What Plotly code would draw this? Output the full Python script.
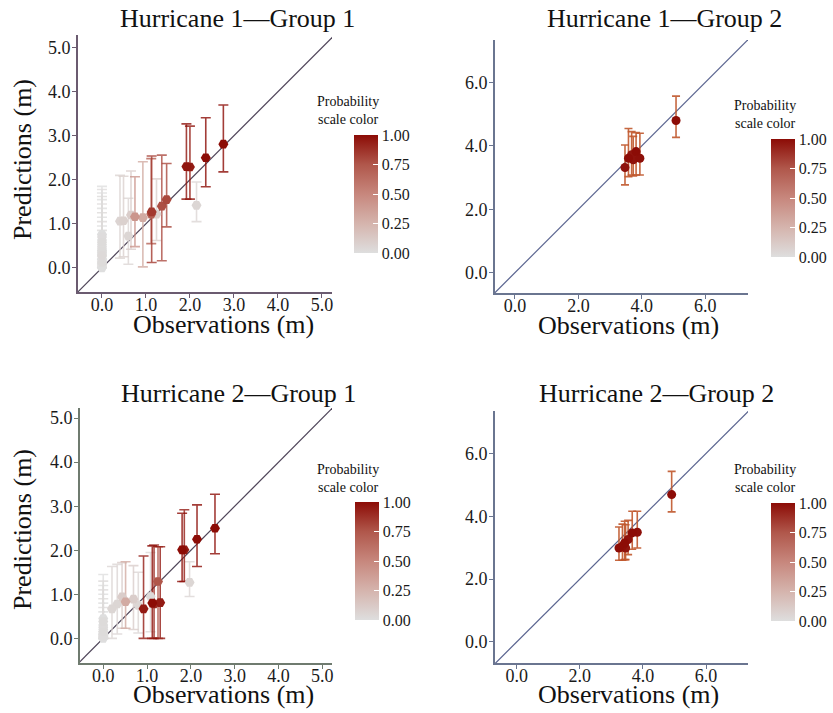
import plotly.graph_objects as go
from plotly.colors import sample_colorscale

W, H = 833, 713
FONT = "Liberation Serif"

# ---------------- data ----------------
# Hurricane 1 - Group 1
h1g1_obs = [2.76, 2.36, 1.92, 2.00, 1.47, 1.36, 1.13, 1.12, 1.24, 0.93, 0.75, 0.66, 0.60, 0.49, 0.41, 2.15,
            0.0, 0.0, 0.0, 0.0, 0.0, 0.0, 0.0, 0.0, 0.0, 0.0, 0.0, 0.0, 0.0]
h1g1_pred = [2.81, 2.50, 2.30, 2.29, 1.55, 1.40, 1.27, 1.22, 1.22, 1.14, 1.16, 1.20, 0.72, 1.07, 1.06, 1.42,
             0.00, 0.12, 0.20, 0.28, 0.33, 0.38, 0.43, 0.48, 0.53, 0.58, 0.63, 0.70, 0.76]
h1g1_lo = [2.18, 1.84, 1.56, 1.56, 0.93, 0.16, 0.12, 0.55, 0.62, 0.02, 0.48, 0.42, 0.08, 0.25, 0.22, 1.05,
           0.00, 0.00, 0.02, 0.05, 0.08, 0.10, 0.15, 0.18, 0.20, 0.25, 0.30, 0.35, 0.40]
h1g1_hi = [3.70, 3.41, 3.27, 3.22, 2.37, 2.56, 2.54, 2.48, 2.02, 2.41, 2.07, 2.20, 1.58, 2.08, 2.10, 1.95,
           0.75, 0.85, 0.95, 1.05, 1.15, 1.25, 1.35, 1.45, 1.55, 1.62, 1.70, 1.78, 1.85]
h1g1_prob = [1.00, 1.00, 0.97, 0.95, 0.80, 0.78, 0.85, 0.70, 0.08, 0.30, 0.42, 0.10, 0.05, 0.08, 0.06, 0.05,
             0.00, 0.02, 0.00, 0.03, 0.00, 0.02, 0.00, 0.01, 0.00, 0.02, 0.00, 0.01, 0.00]

# Hurricane 1 - Group 2
h1g2_obs = [5.08, 3.47, 3.58, 3.68, 3.82, 3.94, 3.73]
h1g2_pred = [4.80, 3.32, 3.61, 3.72, 3.82, 3.61, 3.56]
h1g2_lo = [4.27, 2.77, 3.03, 3.08, 3.08, 3.08, 3.05]
h1g2_hi = [5.57, 4.03, 4.55, 4.45, 4.42, 4.40, 4.30]
h1g2_prob = [1.00, 0.98, 1.00, 0.97, 1.00, 0.99, 0.98]

# Hurricane 2 - Group 1
h2g1_obs = [2.55, 2.14, 1.80, 1.85, 1.25, 1.30, 1.16, 1.12, 0.92, 1.97, 0.51, 0.43, 0.69, 0.80, 0.32, 0.20, 1.08,
            0.0, 0.0, 0.0, 0.0, 0.0, 0.0, 0.0, 0.0, 0.0]
h2g1_pred = [2.50, 2.25, 2.01, 2.01, 1.29, 0.81, 0.78, 0.80, 0.67, 1.27, 0.83, 0.94, 0.89, 0.75, 0.78, 0.67, 0.95,
             0.00, 0.05, 0.10, 0.15, 0.20, 0.25, 0.30, 0.38, 0.45]
h2g1_lo = [1.92, 1.63, 1.29, 1.29, 0.00, 0.00, 0.00, 0.00, 0.00, 0.95, 0.23, 0.23, 0.20, 0.12, 0.10, 0.00, 0.15,
           0.00, 0.00, 0.00, 0.00, 0.00, 0.05, 0.08, 0.10, 0.15]
h2g1_hi = [3.27, 3.03, 2.84, 2.92, 2.08, 2.08, 2.12, 2.10, 1.87, 1.74, 1.74, 1.72, 1.65, 1.50, 1.68, 1.63, 1.95,
           0.60, 0.70, 0.80, 0.90, 1.00, 1.10, 1.20, 1.30, 1.45]
h2g1_prob = [1.00, 1.00, 1.00, 0.95, 0.75, 0.95, 0.90, 1.00, 0.95, 0.05, 0.30, 0.10, 0.10, 0.05, 0.05, 0.05, 0.03,
             0.00, 0.01, 0.00, 0.02, 0.00, 0.01, 0.00, 0.02, 0.00]

# Hurricane 2 - Group 2
h2g2_obs = [4.91, 3.82, 3.66, 3.53, 3.42, 3.45, 3.24, 3.35]
h2g2_pred = [4.69, 3.49, 3.47, 3.26, 3.15, 2.99, 2.99, 3.05]
h2g2_lo = [4.14, 2.99, 2.95, 2.78, 2.62, 2.62, 2.60, 2.60]
h2g2_hi = [5.43, 4.16, 4.16, 3.87, 3.84, 3.73, 3.66, 3.75]
h2g2_prob = [1.00, 0.99, 1.00, 0.98, 1.00, 0.97, 1.00, 0.99]

ticks_small = [0, 1, 2, 3, 4, 5]
ticks_large = [0, 2, 4, 6]
cbar_ticks = [0.0, 0.25, 0.5, 0.75, 1.0]
cbar_labels = ["0.00", "0.25", "0.50", "0.75", "1.00"]

PROB_SCALE = [[0.0, "rgb(222,222,222)"], [0.25, "rgb(213,180,173)"], [0.5, "rgb(199,135,125)"],
              [0.75, "rgb(176,87,75)"], [1.0, "rgb(140,12,6)"]]

# ---------------- layout config ----------------
panels = [
    dict(title="Hurricane 1—Group 1", obs=h1g1_obs, pred=h1g1_pred, lo=h1g1_lo, hi=h1g1_hi, prob=h1g1_prob,
         px=(78, 332), py=(35, 292), xr=(-0.545, 5.23), yr=(-0.55, 5.29), ticks=ticks_small,
         axis_color="#6b5b70", diag_color="#4e4458", symbol="hexagon2", msize=10, err=None, capw=5,
         cb=(354, 135), cbt=(348, 111), tpos=(237, 19), xtpos=(223, 324), ytpos=(22, 160)),
    dict(title="Hurricane 1—Group 2", obs=h1g2_obs, pred=h1g2_pred, lo=h1g2_lo, hi=h1g2_hi, prob=h1g2_prob,
         px=(495, 748), py=(40, 293), xr=(-0.63, 7.35), yr=(-0.64, 7.34), ticks=ticks_large,
         axis_color="#6a7590", diag_color="#5b6590", symbol="circle", msize=9, err="rgba(192,88,44,0.9)", capw=4,
         cb=(771, 139), cbt=(765, 115), tpos=(664, 19), xtpos=(628, 326), ytpos=None),
    dict(title="Hurricane 2—Group 1", obs=h2g1_obs, pred=h2g1_pred, lo=h2g1_lo, hi=h2g1_hi, prob=h2g1_prob,
         px=(80, 332), py=(408, 663), xr=(-0.53, 5.22), yr=(-0.56, 5.23), ticks=ticks_small,
         axis_color="#6f7b6f", diag_color="#4e4458", symbol="hexagon2", msize=10, err=None, capw=5,
         cb=(355, 502), cbt=(348, 478), tpos=(238, 393), xtpos=(223, 694), ytpos=(22, 530)),
    dict(title="Hurricane 2—Group 2", obs=h2g2_obs, pred=h2g2_pred, lo=h2g2_lo, hi=h2g2_hi, prob=h2g2_prob,
         px=(495, 748), py=(411, 663), xr=(-0.69, 7.33), yr=(-0.67, 7.35), ticks=ticks_large,
         axis_color="#6a7590", diag_color="#5b6590", symbol="circle", msize=9, err="rgba(192,88,44,0.9)", capw=4,
         cb=(771, 503), cbt=(765, 479), tpos=(656, 393), xtpos=(628, 694), ytpos=None),
]


def fx(x):
    return x / W


def fy(y):
    return 1 - y / H


def with_alpha(rgb, a):
    return rgb.replace("rgb(", "rgba(").replace(")", f",{a})")


fig = go.Figure()
annotations = []
layout = {}

for i, p in enumerate(panels, start=1):
    sfx = "" if i == 1 else str(i)
    xa, ya = "x" + sfx, "y" + sfx
    ca = "coloraxis" + sfx

    # diagonal reference line y = x spanning the axis ranges
    lo_d = min(p["xr"][0], p["yr"][0])
    hi_d = max(p["xr"][1], p["yr"][1])
    fig.add_trace(go.Scatter(x=[lo_d, hi_d], y=[lo_d, hi_d], mode="lines",
                             line=dict(color=p["diag_color"], width=1.2),
                             xaxis=xa, yaxis=ya, showlegend=False, hoverinfo="skip"))

    order = sorted(range(len(p["obs"])), key=lambda k: p["prob"][k])
    cols = sample_colorscale(PROB_SCALE, [p["prob"][k] for k in order])
    for k, c in zip(order, cols):
        ecol = p["err"] if p["err"] else with_alpha(c, 0.8)
        fig.add_trace(go.Scatter(
            x=[p["obs"][k]], y=[p["pred"][k]], mode="markers",
            marker=dict(size=1, color="rgba(0,0,0,0)"),
            error_y=dict(type="data", symmetric=False,
                         array=[p["hi"][k] - p["pred"][k]],
                         arrayminus=[p["pred"][k] - p["lo"][k]],
                         color=ecol, thickness=1.6, width=p["capw"]),
            xaxis=xa, yaxis=ya, showlegend=False, hoverinfo="skip"))

    fig.add_trace(go.Scatter(
        x=[p["obs"][k] for k in order], y=[p["pred"][k] for k in order], mode="markers",
        marker=dict(color=[p["prob"][k] for k in order], coloraxis=ca,
                    symbol=p["symbol"], size=p["msize"], line=dict(width=0)),
        xaxis=xa, yaxis=ya, showlegend=False))

    axis_common = dict(showgrid=False, zeroline=False, showline=True, linecolor=p["axis_color"],
                       linewidth=2, ticks="outside", ticklen=4, tickwidth=1.2, tickcolor=p["axis_color"],
                       tickvals=p["ticks"], tickformat=".1f",
                       tickfont=dict(family=FONT, size=18, color="#1a1a1a"))
    layout["xaxis" + sfx] = dict(axis_common, domain=[fx(p["px"][0]), fx(p["px"][1])],
                                 range=list(p["xr"]), anchor=ya, ticklabelstandoff=-9)
    layout["yaxis" + sfx] = dict(axis_common, domain=[fy(p["py"][1]), fy(p["py"][0])],
                                 range=list(p["yr"]), anchor=xa, ticklabelstandoff=-2)

    layout[ca] = dict(cmin=0, cmax=1, colorscale=PROB_SCALE,
                      colorbar=dict(x=fx(p["cb"][0]), xanchor="left", y=fy(p["cb"][1]), yanchor="top",
                                    len=118, lenmode="pixels", thickness=24, thicknessmode="pixels",
                                    xpad=0, ypad=0, outlinewidth=0, ticks="inside", ticklen=5,
                                    tickcolor="white", tickwidth=1, tickvals=cbar_ticks,
                                    ticktext=cbar_labels,
                                    tickfont=dict(family=FONT, size=16, color="#1a1a1a")))

    annotations.append(dict(text=p["title"], x=fx(p["tpos"][0]), y=fy(p["tpos"][1]),
                            xref="paper", yref="paper", showarrow=False, xanchor="center", yanchor="middle",
                            font=dict(family=FONT, size=26, color="#111")))
    annotations.append(dict(text="Observations (m)", x=fx(p["xtpos"][0]), y=fy(p["xtpos"][1]),
                            xref="paper", yref="paper", showarrow=False, xanchor="center", yanchor="middle",
                            font=dict(family=FONT, size=26, color="#111")))
    if p["ytpos"]:
        annotations.append(dict(text="Predictions (m)", x=fx(p["ytpos"][0]), y=fy(p["ytpos"][1]),
                                xref="paper", yref="paper", showarrow=False, xanchor="center",
                                yanchor="middle", textangle=-90,
                                font=dict(family=FONT, size=26, color="#111")))
    annotations.append(dict(text="Probability<br>scale color", x=fx(p["cbt"][0]), y=fy(p["cbt"][1]),
                            xref="paper", yref="paper", showarrow=False, xanchor="center", yanchor="middle",
                            align="center", font=dict(family=FONT, size=14, color="#111")))

fig.update_layout(width=W, height=H, margin=dict(l=0, r=0, t=0, b=0, pad=0, autoexpand=False),
                  paper_bgcolor="white", plot_bgcolor="white", showlegend=False,
                  annotations=annotations, **layout)

fig.write_html("out.html", config={"displayModeBar": False},
               post_script="document.body.style.margin='0px';")
